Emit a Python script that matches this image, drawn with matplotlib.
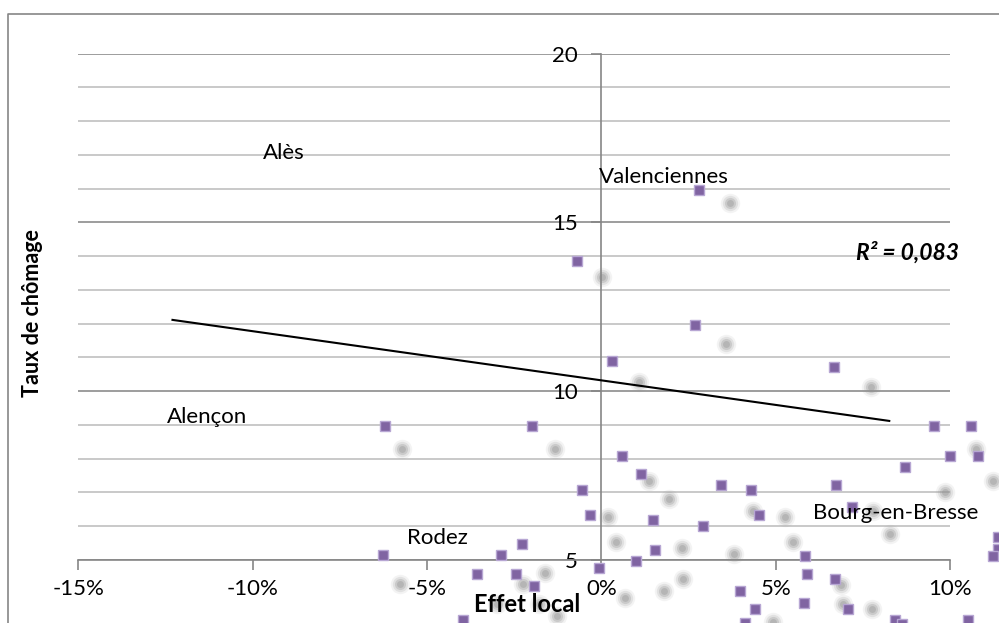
import matplotlib
matplotlib.use("Agg")
import matplotlib.pyplot as plt
import matplotlib.transforms as mtransforms
from matplotlib.ticker import FuncFormatter, MultipleLocator
import numpy as np

# Effet local (%) vs taux de chômage
effet_local = [2.80, -0.70, 2.68, 0.29, 6.66, -6.20, -1.99, 9.53, 10.60, 0.58,
               10.00, 10.80, 1.12, 8.69, -0.55, 3.42, 4.30, 6.73, -0.33, 1.49,
               4.52, 7.19, 2.91, -2.27, 1.52, 5.84, -2.89, -6.25, 0.99, -0.07,
               -3.58, -2.44, -1.94, 5.89, 6.70, 3.98, 5.80, 4.40, 7.07, -3.96,
               4.10, 8.42, 10.51, 11.36, 11.36, 11.23, 8.62]
taux_chomage = [15.96, 13.86, 11.96, 10.89, 10.73, 8.98, 8.98, 8.98, 8.98, 8.08,
                8.08, 8.08, 7.55, 7.75, 7.06, 7.22, 7.06, 7.22, 6.33, 6.18,
                6.34, 6.57, 6.01, 5.47, 5.30, 5.13, 5.14, 5.14, 4.96, 4.76,
                4.59, 4.59, 4.24, 4.59, 4.44, 4.07, 3.72, 3.55, 3.55, 3.22,
                3.14, 3.22, 3.22, 5.67, 5.33, 5.12, 3.10]

# data labels as Excel placed them
villes = ["Alès", "Valenciennes", "Alençon", "Rodez", "Bourg-en-Bresse"]
villes_x = [-9.12, 1.80, -11.30, -4.71, 8.44]
villes_y = [17.06, 16.34, 9.24, 5.65, 6.39]

# linear trend line
trend_slope = -0.1456
trend_intercept = 10.32
trend_range = [-12.3, 8.25]
r2 = 0.083

plt.rcParams['font.family'] = ['Lato', 'DejaVu Sans']

W, H = 999, 623
fig = plt.figure(figsize=(W / 100, H / 100), dpi=100)
ax = fig.add_axes([78.3 / W, (H - 560) / H, 872 / W, 506.5 / H])
ax.set_xlim(-15, 10)
ax.set_ylim(5, 20)

for s in ['top', 'right']:
    ax.spines[s].set_visible(False)
ax.spines['left'].set_position(('data', 0))
ax.spines['left'].set_color('#868686')
ax.spines['bottom'].set_color('#868686')
ax.spines['left'].set_linewidth(1.2)
ax.spines['bottom'].set_linewidth(1.2)

ax.xaxis.set_major_locator(MultipleLocator(5))
ax.yaxis.set_major_locator(MultipleLocator(5))
ax.yaxis.set_minor_locator(MultipleLocator(1))
ax.xaxis.set_major_formatter(FuncFormatter(lambda v, p: f"{v:.0f}%"))
ax.tick_params(axis='x', direction='out', length=7, width=1.2, color='#868686',
               labelsize=16, pad=7)
ax.tick_params(axis='y', direction='out', length=7, width=1.2, color='#868686',
               labelsize=16, pad=10)
ax.tick_params(axis='y', which='minor', length=0)
ax.grid(axis='y', which='major', color='#8c8c8c', linewidth=1.2)
ax.grid(axis='y', which='minor', color='#c0c0c0', linewidth=1.2)
ax.set_axisbelow(True)

# perspective shadow of the markers
shadow_tf = mtransforms.Affine2D().scale(1.0457, 1.0437).translate(-1, -31.9)
for ms, a in [(14, 0.10), (11, 0.18), (8, 0.28), (5, 0.35)]:
    ax.plot(effet_local, taux_chomage, 'o', ms=ms, color='#909090', alpha=a,
            mec='none', transform=ax.transData + shadow_tf, clip_on=False,
            zorder=2)

ax.plot(effet_local, taux_chomage, 's', ms=7.5, mfc='#8064A2', mec='#B7A6D3',
        mew=1.0, clip_on=False, zorder=4)

tx = np.array(trend_range)
ax.plot(tx, trend_intercept + trend_slope * tx, color='black', lw=1.5, zorder=3)

for name, x, y in zip(villes, villes_x, villes_y):
    ax.text(x, y, name, fontsize=16, ha='center', va='center', zorder=5)

ax.text(8.78, 14.1, f"R² = {r2:.3f}".replace('.', ','), fontsize=16.5,
        fontweight='bold', style='italic', ha='center', va='center')

fig.text(527 / W, 1 - 604 / H, "Effet local", fontsize=17, fontweight='bold',
         ha='center', va='center')
fig.text(33 / W, 1 - 313 / H, "Taux de chômage", fontsize=15.5, fontweight='bold',
         ha='center', va='center', rotation=90)

# chart border
fig.add_artist(plt.Line2D([8 / W, 8 / W, 1], [0, 1 - 14 / H, 1 - 14 / H],
                          transform=fig.transFigure, color='#868686', lw=1.2))

fig.savefig('out.png', dpi=100)
